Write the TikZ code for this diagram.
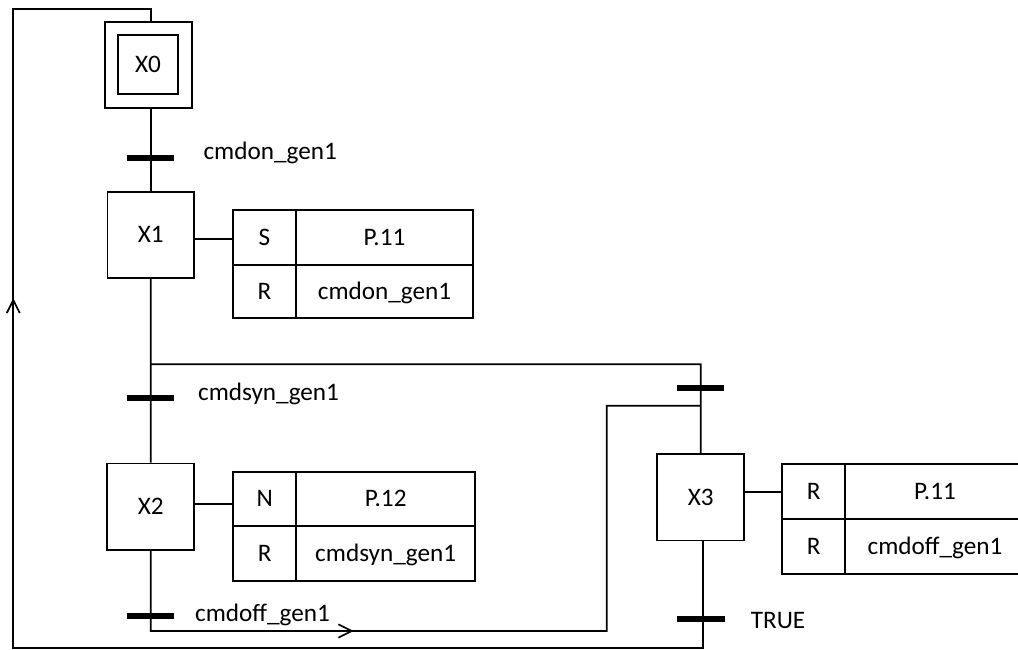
\documentclass[tikz,border=0pt]{standalone}
\usepackage{fontspec}
\setmainfont{Carlito}
\begin{document}
\begin{tikzpicture}[x=1pt,y=-1pt,line width=1.7pt,
  every node/.style={font=\fontsize{25.2pt}{30pt}\selectfont},
  stepbox/.style={draw,inner sep=0pt,text height=20.5pt,text depth=4.3pt},
  cell/.style={draw,inner sep=0pt,text height=20.5pt,text depth=4.3pt},
  bar/.style={fill=black,draw=none,minimum width=47.5pt,minimum height=5.7pt,inner sep=0pt},
  lab/.style={anchor=base west,inner sep=0pt}]
\useasboundingbox (0,0) rectangle (1018,650);
\clip (0,0) rectangle (1018,650);
% steps
\node[draw,minimum width=86.7pt,minimum height=86.6pt] (X0o) at (148.3,65) {};
\node[stepbox,minimum width=59.4pt,minimum height=59.3pt] (X0) at (148,64.7) {X0};
\node[stepbox,minimum width=86.7pt,minimum height=86pt] (X1) at (150.7,234.7) {X1};
\node[stepbox,minimum width=87pt,minimum height=86.7pt] (X2) at (150.8,506.7) {X2};
\node[stepbox,minimum width=87pt,minimum height=86.3pt] (X3) at (700.8,497.2) {X3};
% action tables
\node[cell,minimum width=62.4pt,minimum height=55pt] (a1s) at (264.5,237.5) {S};
\node[cell,minimum width=177.6pt,minimum height=55pt] (a1p) at (384.5,237.5) {P.11};
\node[cell,minimum width=62.4pt,minimum height=53pt] (a1r) at (264.5,291.5) {R};
\node[cell,minimum width=177.6pt,minimum height=53pt] (a1c) at (384.5,291.5) {cmdon\_gen1};
\node[cell,minimum width=63pt,minimum height=54.3pt] (a2n) at (264.8,498.85) {N};
\node[cell,minimum width=178.7pt,minimum height=54.3pt] (a2p) at (385.65,498.85) {P.12};
\node[cell,minimum width=63pt,minimum height=54.7pt] (a2r) at (264.8,553.35) {R};
\node[cell,minimum width=178.7pt,minimum height=54.7pt] (a2c) at (385.65,553.35) {cmdsyn\_gen1};
\node[cell,minimum width=63pt,minimum height=54.4pt] (a3r) at (813.8,491.5) {R};
\node[cell,minimum width=179.4pt,minimum height=54.4pt] (a3p) at (935,491.5) {P.11};
\node[cell,minimum width=63pt,minimum height=55pt] (a3s) at (813.8,546.2) {R};
\node[cell,minimum width=179.4pt,minimum height=55pt] (a3c) at (935,546.2) {cmdoff\_gen1};
% helper coordinates
\coordinate (c0) at (150.7,9.3);
\coordinate (cl0) at (13.3,9.3);
\coordinate (cl1) at (13.3,648.3);
\coordinate (cr1) at (702.7,648.3);
\coordinate (la) at (13.3,300);
\coordinate (br0) at (150.7,364.3);
\coordinate (br1) at (700.7,364.3);
\coordinate (rt0) at (150.7,631);
\coordinate (ba) at (351.7,631);
\coordinate (rt1) at (606.7,631);
\coordinate (rt2) at (606.7,405.7);
\coordinate (rt3) at (700.7,405.7);
\coordinate (k1) at (0,239.3);
\coordinate (k2) at (0,504);
\coordinate (k3) at (0,492.3);
% links
\draw (X0o.south -| X1.north) -- (X1.north);
\draw (X1.south) -- (X2.north);
\draw (X2.south) -- (rt0) -- (ba) -- (rt1) -- (rt2) -- (rt3);
\draw (ba) ++(-13.3,-6.7) -- (ba) -- ++(-13.3,6.7);
\draw (br0) -- (br1) -- (X3.north);
\draw (X3.south -| cr1) -- (cr1) -- (cl1) -- (cl0) -- (c0) -- (X0o.north -| c0);
\draw (la) ++(-6.5,13) -- (la) -- ++(6.5,13);
\draw (X1.east |- k1) -- (a1s.west |- k1);
\draw (X2.east |- k2) -- (a2n.west |- k2);
\draw (X3.east |- k3) -- (a3r.west |- k3);
% transitions
\node[bar] (t1) at (150.7,158) {};
\node[bar] (t2) at (150.7,397.7) {};
\node[bar] (t3) at (150.7,615.7) {};
\node[bar] (t4) at (700.7,388) {};
\node[bar] (t5) at (700.8,619) {};
\node[lab] (l1) at (202.7,159.5) {cmdon\_gen1};
\node[lab] (l2) at (197.3,400.5) {cmdsyn\_gen1};
\node[lab] (l3) at (194.3,621.5) {cmdoff\_gen1};
\node[lab] (l5) at (750,628) {TRUE};
\end{tikzpicture}
\end{document}
